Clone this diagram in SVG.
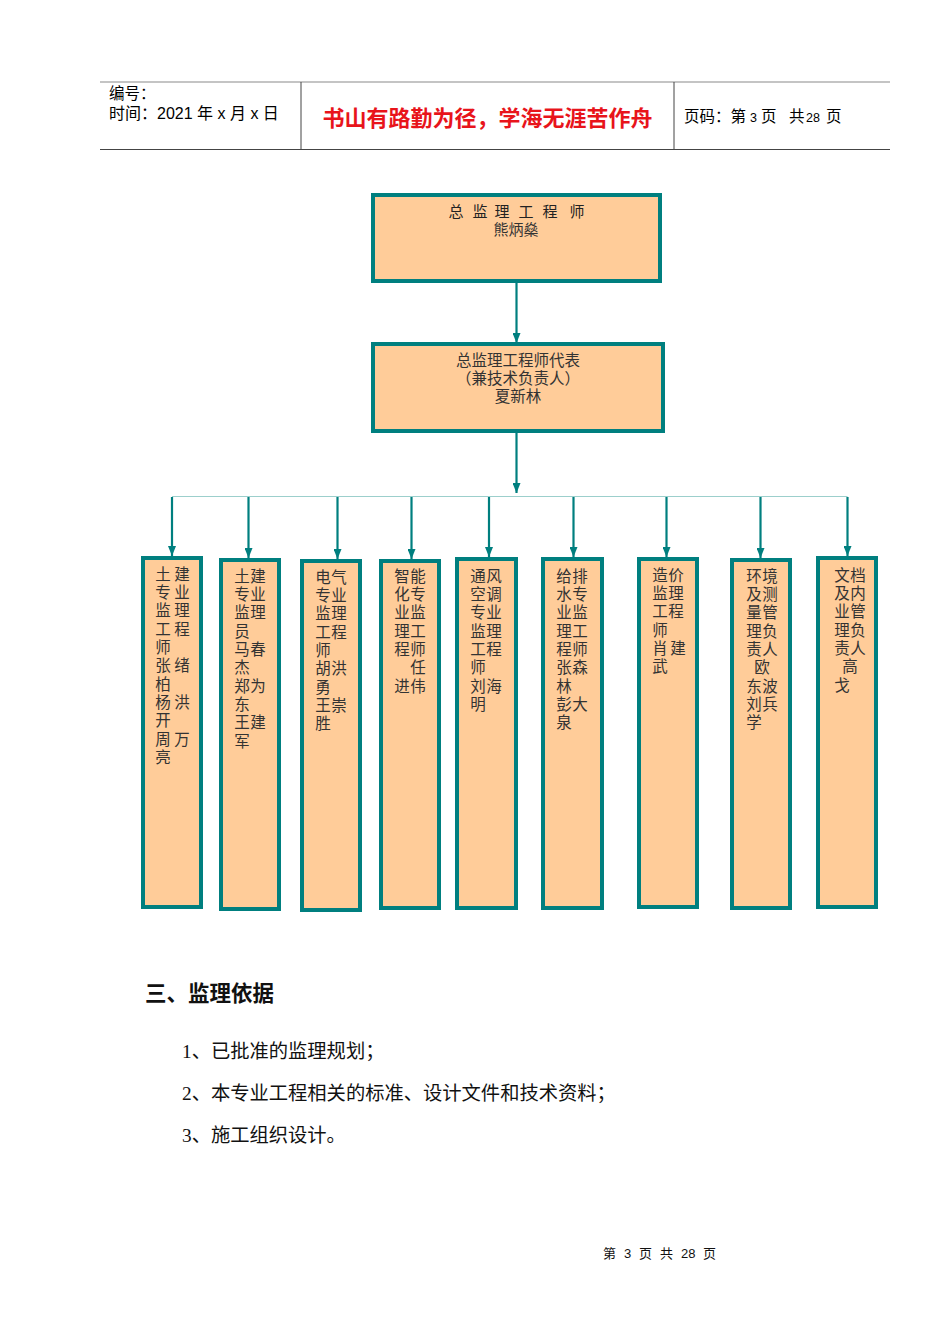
<svg xmlns="http://www.w3.org/2000/svg" width="950" height="1344" viewBox="0 0 950 1344">
<style>
.box{fill:#FFCC99;stroke:#007F7F;stroke-width:4}
.t{font-family:"Liberation Serif","Noto Sans CJK SC",serif;fill:#222;font-size:15.5px}
.v{font-family:"Liberation Serif","Noto Sans CJK SC",serif;fill:#333;font-size:15.5px;text-anchor:middle}
.c{text-anchor:middle}
.hd{font-family:"Liberation Sans","Noto Sans CJK SC",sans-serif;fill:#000;font-size:15.5px}
.red{font-family:"Liberation Sans","Noto Sans CJK SC",sans-serif;fill:#E8141B;font-size:22px;font-weight:bold;text-anchor:middle}
.body{font-family:"Liberation Serif","Noto Sans CJK SC",serif;fill:#111;font-size:19.3px}
.drop{stroke:#007F7F;stroke-width:2.2;fill:none}
</style>
<defs>
<marker id="ah" viewBox="0 0 10 8" refX="10" refY="4" markerWidth="10" markerHeight="8" markerUnits="userSpaceOnUse" orient="auto">
<path d="M0,0 L10,4 L0,8 z" fill="#007F7F"/>
</marker>
</defs>

<g id="header">
<line x1="100" y1="82" x2="890" y2="82" stroke="#8a8a8a" stroke-width="1.2"/>
<line x1="100" y1="149.5" x2="890" y2="149.5" stroke="#444" stroke-width="1"/>
<line x1="301" y1="82" x2="301" y2="149.5" stroke="#444" stroke-width="1"/>
<line x1="674" y1="82" x2="674" y2="149.5" stroke="#444" stroke-width="1"/>
<text class="hd" x="109" y="99">编号：</text>
<text class="hd" x="109" y="119" style="font-size:16px">时间：2021 年 x 月 x 日</text>
<text class="red" x="487.5" y="125.5">书山有路勤为径，学海无涯苦作舟</text>
<text class="hd" y="122" style="font-size:15.5px"><tspan x="684">页码：第</tspan><tspan x="750" style="font-size:12.5px">3</tspan><tspan x="761">页</tspan><tspan x="789">共</tspan><tspan x="806" style="font-size:12.5px">28</tspan><tspan x="826">页</tspan></text>
</g>

<g id="connectors">
<line class="drop" x1="516.5" y1="283" x2="516.5" y2="343" marker-end="url(#ah)"/>
<line class="drop" x1="516.5" y1="433" x2="516.5" y2="493" marker-end="url(#ah)"/>
<line x1="172" y1="496.5" x2="847.5" y2="496.5" stroke="#9CCFCC" stroke-width="1.2"/>
<line class="drop" x1="172" y1="497" x2="172" y2="556" marker-end="url(#ah)"/>
<line class="drop" x1="248.5" y1="497" x2="248.5" y2="558" marker-end="url(#ah)"/>
<line class="drop" x1="337.5" y1="497" x2="337.5" y2="559" marker-end="url(#ah)"/>
<line class="drop" x1="411.5" y1="497" x2="411.5" y2="559" marker-end="url(#ah)"/>
<line class="drop" x1="489" y1="497" x2="489" y2="557" marker-end="url(#ah)"/>
<line class="drop" x1="573.5" y1="497" x2="573.5" y2="557" marker-end="url(#ah)"/>
<line class="drop" x1="666.5" y1="497" x2="666.5" y2="557" marker-end="url(#ah)"/>
<line class="drop" x1="760.5" y1="497" x2="760.5" y2="558" marker-end="url(#ah)"/>
<line class="drop" x1="847.5" y1="497" x2="847.5" y2="556" marker-end="url(#ah)"/>
</g>

<g id="chief">
<rect class="box" x="373" y="195" width="287" height="86"/>
<text class="t" style="font-size:15px" x="456 480 502 526 550 577" y="216.5"><tspan class="c">总监理工程师</tspan></text>
<text class="v" style="font-size:15px" x="516" y="234.5">熊炳燊</text>
</g>

<g id="deputy">
<rect class="box" x="373" y="344" width="290" height="87"/>
<text class="v" x="518" y="366">总监理工程师代表</text>
<text class="v" x="518" y="384">（兼技术负责人）</text>
<text class="v" x="518" y="402">夏新林</text>
</g>

<g id="n1">
<rect class="box" x="143" y="558" width="58" height="349"/>
<text class="v" x="163 182" y="580">土建</text>
<text class="v" x="163 182" y="598">专业</text>
<text class="v" x="163 182" y="616">监理</text>
<text class="v" x="163 182" y="635">工程</text>
<text class="v" x="163" y="653">师</text>
<text class="v" x="163 182" y="671">张绪</text>
<text class="v" x="163" y="690">柏</text>
<text class="v" x="163 182" y="708">杨洪</text>
<text class="v" x="163" y="726">开</text>
<text class="v" x="163 182" y="745">周万</text>
<text class="v" x="163" y="763">亮</text>
</g>

<g id="n2">
<rect class="box" x="221" y="560" width="58" height="349"/>
<text class="v" x="242 258" y="582">土建</text>
<text class="v" x="242 258" y="600">专业</text>
<text class="v" x="242 258" y="618">监理</text>
<text class="v" x="242" y="637">员</text>
<text class="v" x="242 258" y="655">马春</text>
<text class="v" x="242" y="673">杰</text>
<text class="v" x="242 258" y="692">郑为</text>
<text class="v" x="242" y="710">东</text>
<text class="v" x="242 258" y="728">王建</text>
<text class="v" x="242" y="747">军</text>
</g>

<g id="n3">
<rect class="box" x="302" y="561" width="58" height="349"/>
<text class="v" x="323 339" y="583">电气</text>
<text class="v" x="323 339" y="601">专业</text>
<text class="v" x="323 339" y="619">监理</text>
<text class="v" x="323 339" y="638">工程</text>
<text class="v" x="323" y="656">师</text>
<text class="v" x="323 339" y="674">胡洪</text>
<text class="v" x="323" y="693">勇</text>
<text class="v" x="323 339" y="711">王崇</text>
<text class="v" x="323" y="729">胜</text>
</g>

<g id="n4">
<rect class="box" x="381" y="561" width="58" height="347"/>
<text class="v" x="402 418" y="582">智能</text>
<text class="v" x="402 418" y="600">化专</text>
<text class="v" x="402 418" y="618">业监</text>
<text class="v" x="402 418" y="637">理工</text>
<text class="v" x="402 418" y="655">程师</text>
<text class="v" x="418" y="673">任</text>
<text class="v" x="402 418" y="692">进伟</text>
</g>

<g id="n5">
<rect class="box" x="457" y="559" width="59" height="349"/>
<text class="v" x="478 494" y="582">通风</text>
<text class="v" x="478 494" y="600">空调</text>
<text class="v" x="478 494" y="618">专业</text>
<text class="v" x="478 494" y="637">监理</text>
<text class="v" x="478 494" y="655">工程</text>
<text class="v" x="478" y="673">师</text>
<text class="v" x="478 494" y="692">刘海</text>
<text class="v" x="478" y="710">明</text>
</g>

<g id="n6">
<rect class="box" x="543" y="559" width="59" height="349"/>
<text class="v" x="564 580" y="582">给排</text>
<text class="v" x="564 580" y="600">水专</text>
<text class="v" x="564 580" y="618">业监</text>
<text class="v" x="564 580" y="637">理工</text>
<text class="v" x="564 580" y="655">程师</text>
<text class="v" x="564 580" y="673">张森</text>
<text class="v" x="564" y="692">林</text>
<text class="v" x="564 580" y="710">彭大</text>
<text class="v" x="564" y="728">泉</text>
</g>

<g id="n7">
<rect class="box" x="639" y="559" width="58" height="348"/>
<text class="v" x="660 676" y="581">造价</text>
<text class="v" x="660 676" y="599">监理</text>
<text class="v" x="660 676" y="617">工程</text>
<text class="v" x="660" y="636">师</text>
<text class="v" x="660 678" y="654">肖建</text>
<text class="v" x="660" y="672">武</text>
</g>

<g id="n8">
<rect class="box" x="732" y="560" width="58" height="348"/>
<text class="v" x="754 770" y="582">环境</text>
<text class="v" x="754 770" y="600">及测</text>
<text class="v" x="754 770" y="618">量管</text>
<text class="v" x="754 770" y="637">理负</text>
<text class="v" x="754 770" y="655">责人</text>
<text class="v" x="762" y="673">欧</text>
<text class="v" x="754 770" y="692">东波</text>
<text class="v" x="754 770" y="710">刘兵</text>
<text class="v" x="754" y="728">学</text>
</g>

<g id="n9">
<rect class="box" x="818" y="558" width="58" height="349"/>
<text class="v" x="842 858" y="581">文档</text>
<text class="v" x="842 858" y="599">及内</text>
<text class="v" x="842 858" y="617">业管</text>
<text class="v" x="842 858" y="636">理负</text>
<text class="v" x="842 858" y="654">责人</text>
<text class="v" x="850" y="672">高</text>
<text class="v" x="842" y="691">戈</text>
</g>

<g id="body">
<text class="body" x="145" y="1001" style="font-size:21.5px;font-weight:bold;font-family:'Liberation Sans','Noto Sans CJK SC',sans-serif">三、监理依据</text>
<text class="body" x="182" y="1057.5">1、已批准的监理规划；</text>
<text class="body" x="182" y="1099.5">2、本专业工程相关的标准、设计文件和技术资料；</text>
<text class="body" x="182" y="1141.5">3、施工组织设计。</text>
<text class="body" style="font-size:13px" y="1258"><tspan x="603">第</tspan><tspan x="624" font-family="Liberation Sans">3</tspan><tspan x="639">页</tspan><tspan x="660">共</tspan><tspan x="681" font-family="Liberation Sans">28</tspan><tspan x="703">页</tspan></text>
</g>
</svg>
